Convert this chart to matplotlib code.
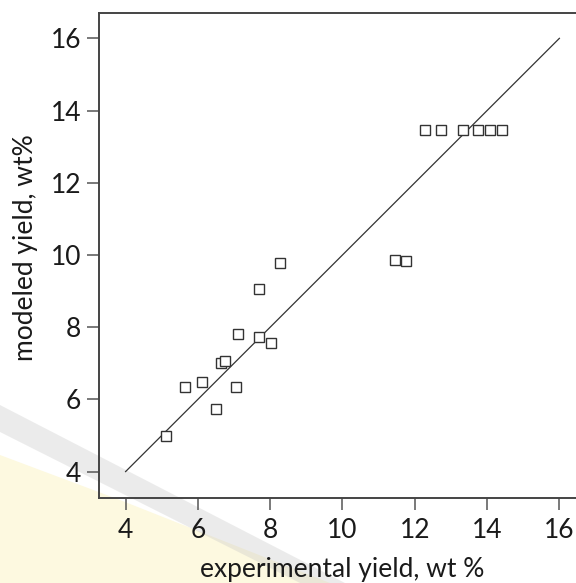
import matplotlib
matplotlib.use("Agg")
import matplotlib.pyplot as plt
from matplotlib.patches import Polygon

plt.rcParams['font.family'] = ['Lato', 'DejaVu Sans']

# Data
exp_yield = [5.11, 5.63, 6.11, 6.50, 6.63, 6.76, 7.06, 7.12, 7.68, 7.68, 8.03, 8.27,
             11.44, 11.77, 12.28, 12.72, 13.33, 13.76, 14.08, 14.41]
mod_yield = [4.99, 6.35, 6.48, 5.72, 7.00, 7.06, 6.35, 7.80, 7.73, 9.07, 7.57, 9.79,
             9.86, 9.84, 13.46, 13.46, 13.46, 13.46, 13.46, 13.46]
parity_x = [4, 16]
parity_y = [4, 16]
x_ticks = [4, 6, 8, 10, 12, 14, 16]
y_ticks = [4, 6, 8, 10, 12, 14, 16]

W, H = 576, 583
fig = plt.figure(figsize=(W / 100, H / 100), dpi=100)

# faint background watermark (figure level, behind the axes)
yellow = Polygon([(0, 1 - 455 / H), (120 / W, 1 - 500 / H), (330 / W, 0), (0, 0)],
                 closed=True, facecolor='#fdf9e0', edgecolor='none', zorder=-2)
yellow.set_transform(fig.transFigure)
fig.patches.append(yellow)
band = Polygon([(0, 1 - 405 / H), (0, 1 - 432 / H), (300 / W, 1 - 583 / H), (345 / W, 1 - 583 / H)],
               closed=True, facecolor='#c8c8c8', edgecolor='none', alpha=0.35, zorder=-1)
band.set_transform(fig.transFigure)
fig.patches.append(band)

# axes placement: left spine at x=99px, top at 12.7px, bottom at 498.3px
xmin, xmax = 3.27, 16.62
ymin, ymax = 3.26, 16.71
left = 99.2 / W
bottom = (H - 498.3) / H
height = (498.3 - 12.7) / H
px_per_unit = 36.15
width = (xmax - xmin) * px_per_unit / W
ax = fig.add_axes([left, bottom, width, height])
ax.set_facecolor('none')
ax.set_zorder(1)

ax.plot(parity_x, parity_y, color='#333333', linewidth=0.9, zorder=2)
ax.plot(exp_yield, mod_yield, linestyle='none', marker='s', markersize=6.8,
        markerfacecolor='white', markeredgecolor='#333333', markeredgewidth=1.0, zorder=3)

ax.set_xlim(xmin, xmax)
ax.set_ylim(ymin, ymax)
ax.set_xticks(x_ticks)
ax.set_yticks(y_ticks)
ax.set_xticklabels([str(t) for t in x_ticks])
ax.set_yticklabels([str(t) for t in y_ticks])

for s in ['left', 'bottom', 'top', 'right']:
    ax.spines[s].set_color('#444444')
    ax.spines[s].set_linewidth(1.4)

ax.tick_params(axis='both', direction='out', length=8.5, width=1.1, color='#555555',
               labelsize=19, labelcolor='#1a1a1a')
ax.tick_params(axis='x', pad=6)
ax.tick_params(axis='y', pad=4.5)

ax.set_xlabel('experimental yield, wt %', fontsize=19, color='#1a1a1a')
ax.set_ylabel('modeled yield, wt%', fontsize=19, color='#1a1a1a')
ax.xaxis.set_label_coords(10.0, 1.28, transform=ax.transData)
ax.xaxis.label.set_va('center')
ax.yaxis.set_label_coords(1.24, 10.2, transform=ax.transData)
ax.yaxis.label.set_va('center')

fig.savefig('out.png', dpi=100)
